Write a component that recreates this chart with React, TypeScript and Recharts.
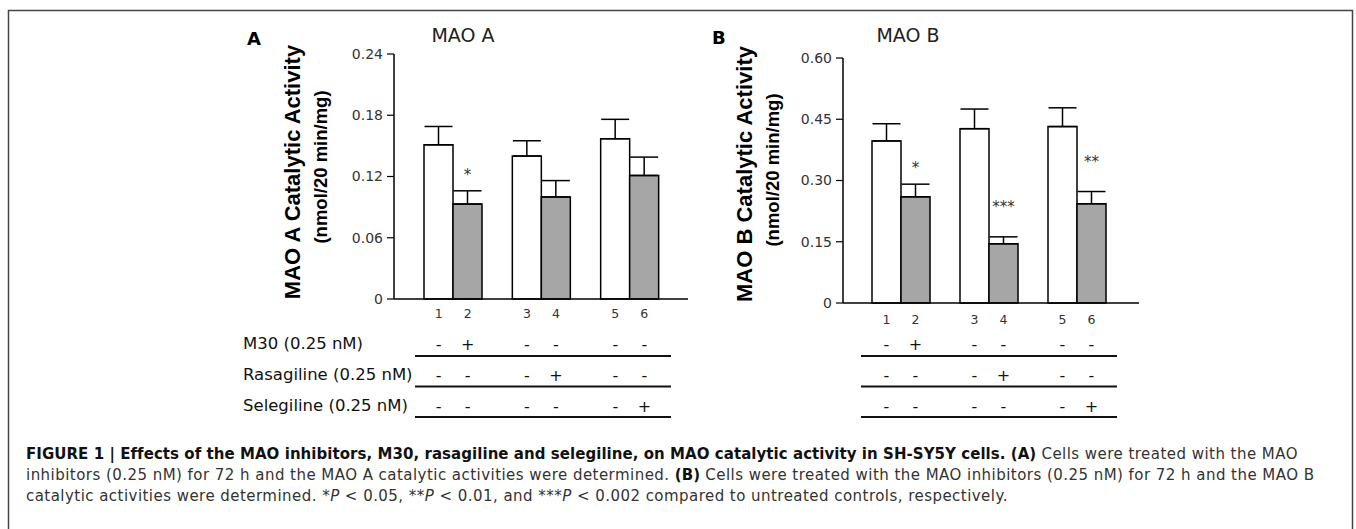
import React from "react"
import { BarChart, Bar, XAxis, YAxis, ErrorBar, LabelList } from "recharts"

// groups of two bars: untreated control + treated
const groups = ["1-2", "3-4", "5-6"]
const barIds = ["1", "2", "3", "4", "5", "6"]

const maoAControl = [0.151, 0.14, 0.157]
const maoAControlSem = [0.018, 0.015, 0.019]
const maoATreated = [0.093, 0.1, 0.121]
const maoATreatedSem = [0.013, 0.016, 0.018]
const maoASig = ["*", "", ""]

const maoBControl = [0.397, 0.427, 0.432]
const maoBControlSem = [0.042, 0.048, 0.046]
const maoBTreated = [0.26, 0.145, 0.243]
const maoBTreatedSem = [0.031, 0.017, 0.03]
const maoBSig = ["*", "***", "**"]

const maoATicks = [0, 0.06, 0.12, 0.18, 0.24]
const maoBTicks = [0, 0.15, 0.3, 0.45, 0.6]

const rowLabels = ["M30 (0.25 nM)", "Rasagiline (0.25 nM)", "Selegiline (0.25 nM)"]
const m30Signs = ["-", "+", "-", "-", "-", "-"]
const rasagilineSigns = ["-", "-", "-", "+", "-", "-"]
const selegilineSigns = ["-", "-", "-", "-", "-", "+"]
const treatmentRows = [m30Signs, rasagilineSigns, selegilineSigns]

const FONT = "'DejaVu Sans', sans-serif"
const ROW_Y = [344, 375, 406]
const LINE_Y = [356, 386.5, 417]

function buildData(control: number[], cSem: number[], treated: number[], tSem: number[], sig: string[]) {
  return groups.map((g, i) => ({
    group: g,
    control: control[i],
    controlErr: [0, cSem[i]],
    treated: treated[i],
    treatedErr: [0, tSem[i]],
    sig: sig[i],
  }))
}

const dataA = buildData(maoAControl, maoAControlSem, maoATreated, maoATreatedSem, maoASig)
const dataB = buildData(maoBControl, maoBControlSem, maoBTreated, maoBTreatedSem, maoBSig)

const fmt = (v: number) => (v === 0 ? "0" : v.toFixed(2))

function makeTick(numY: number) {
  return (props: any) => {
    const { x, index } = props
    const xs = [x - 14.5, x + 14.5]
    return (
      <g>
        {xs.map((bx, k) => {
          const j = index * 2 + k
          return (
            <g key={k}>
              <text x={bx} y={numY} textAnchor="middle" dominantBaseline="central" fontSize={12.5} fill="#333" fontFamily={FONT}>
                {barIds[j]}
              </text>
              {treatmentRows.map((row, r) => (
                <text key={r} x={bx} y={ROW_Y[r]} textAnchor="middle" dominantBaseline="central" fontSize={16} fill="#111" fontFamily={FONT}>
                  {row[j]}
                </text>
              ))}
            </g>
          )
        })}
      </g>
    )
  }
}

function makeSigLabel(data: any[]) {
  return (props: any) => {
    const { x, y, width, height, index, value } = props
    if (!value) return null
    const d = data[index]
    const errPx = (height * d.treatedErr[1]) / d.treated
    const lift = value.length > 1 ? 30 : 16
    return (
      <text x={x + width / 2} y={y - errPx - lift} textAnchor="middle" dominantBaseline="central" fontSize={15} fill="#333" fontFamily={FONT}>
        {value}
      </text>
    )
  }
}

function Panel(props: {
  data: any[]
  ticks: number[]
  left: number
  width: number
  top: number
  yAxisWidth: number
  xAxisHeight: number
  right: number
  padding: { left: number; right: number }
  numY: number
}) {
  const { data, ticks } = props
  return (
    <div style={{ position: "absolute", left: props.left, top: 0 }}>
      <BarChart
        width={props.width}
        height={440}
        data={data}
        margin={{ top: props.top, right: props.right, bottom: 0, left: 0 }}
        barGap={0}
        barSize={29}
      >
        <XAxis
          dataKey="group"
          height={props.xAxisHeight}
          padding={props.padding}
          axisLine={{ stroke: "#000", strokeWidth: 1.5 }}
          tickLine={false}
          tick={makeTick(props.numY)}
          interval={0}
        />
        <YAxis
          width={props.yAxisWidth}
          domain={[ticks[0], ticks[ticks.length - 1]]}
          ticks={ticks}
          tickFormatter={fmt}
          tickSize={7}
          tickMargin={4}
          axisLine={{ stroke: "#000", strokeWidth: 1.5 }}
          tickLine={{ stroke: "#000", strokeWidth: 1.2 }}
          tick={{ fontSize: 14, fill: "#333", fontFamily: FONT }}
        />
        <Bar dataKey="control" fill="#fff" stroke="#000" strokeWidth={1.5} isAnimationActive={false}>
          <ErrorBar dataKey="controlErr" width={14} stroke="#000" strokeWidth={1.5} direction="y" />
        </Bar>
        <Bar dataKey="treated" fill="#a6a6a6" stroke="#000" strokeWidth={1.5} isAnimationActive={false}>
          <ErrorBar dataKey="treatedErr" width={14} stroke="#000" strokeWidth={1.5} direction="y" />
          <LabelList dataKey="sig" content={makeSigLabel(data)} />
        </Bar>
      </BarChart>
    </div>
  )
}

const boldStyle = { color: "#111", letterSpacing: "0.05px" }

export default function App() {
  return (
    <div style={{ position: "absolute", left: 0, top: 0, width: 1356, height: 529, background: "#fff", overflow: "hidden" }}>
      <Panel
        data={dataA}
        ticks={maoATicks}
        left={230}
        width={470}
        top={54}
        right={12}
        yAxisWidth={164}
        xAxisHeight={141}
        padding={{ left: 15, right: 14 }}
        numY={313}
      />
      <Panel
        data={dataB}
        ticks={maoBTicks}
        left={700}
        width={450}
        top={58}
        right={11}
        yAxisWidth={143}
        xAxisHeight={137}
        padding={{ left: 14, right: 18 }}
        numY={319}
      />
      <svg width={1356} height={529} style={{ position: "absolute", left: 0, top: 0, pointerEvents: "none" }}>
        {/* frame */}
        <path d="M8.5 529 V10.5 H1352.5 V529" fill="none" stroke="#444" strokeWidth={1.5} />

        {/* panel letters and titles */}
        <text x={247} y={38} dominantBaseline="central" fontSize={18} fontWeight="bold" fontFamily={FONT} fill="#000">A</text>
        <text x={712} y={37} dominantBaseline="central" fontSize={18} fontWeight="bold" fontFamily={FONT} fill="#000">B</text>
        <text x={463} y={35} textAnchor="middle" dominantBaseline="central" fontSize={19} fontFamily={FONT} fill="#222">MAO A</text>
        <text x={908} y={35} textAnchor="middle" dominantBaseline="central" fontSize={19} fontFamily={FONT} fill="#222">MAO B</text>

        {/* y axis titles */}
        <g fontFamily="'Liberation Sans', Arial, sans-serif" fontWeight="bold" fill="#000" textAnchor="middle">
          <text transform="translate(292,172) rotate(-90)" dominantBaseline="central" fontSize={22}>MAO A Catalytic Activity</text>
          <text transform="translate(320,167) rotate(-90)" dominantBaseline="central" fontSize={18.5}>(nmol/20 min/mg)</text>
          <text transform="translate(744,174) rotate(-90)" dominantBaseline="central" fontSize={22}>MAO B Catalytic Activity</text>
          <text transform="translate(772,170) rotate(-90)" dominantBaseline="central" fontSize={18.5}>(nmol/20 min/mg)</text>
        </g>

        {/* treatment table */}
        {rowLabels.map((t, r) => (
          <text key={t} x={243} y={ROW_Y[r] - 1} dominantBaseline="central" fontSize={16.5} fontFamily={FONT} fill="#111">
            {t}
          </text>
        ))}
        {LINE_Y.map((y) => (
          <g key={y}>
            <line x1={415} x2={671} y1={y} y2={y} stroke="#111" strokeWidth={1.8} />
            <line x1={861} x2={1117} y1={y} y2={y} stroke="#111" strokeWidth={1.8} />
          </g>
        ))}
      </svg>
      <div
        style={{
          position: "absolute",
          left: 26,
          top: 444,
          fontFamily: FONT,
          fontSize: 15,
          letterSpacing: "0.46px",
          lineHeight: "21px",
          color: "#333",
          whiteSpace: "nowrap",
        }}
      >
        <div>
          <b style={boldStyle}>
            FIGURE 1 | Effects of the MAO inhibitors, M30, rasagiline and selegiline, on MAO catalytic activity in SH-SY5Y cells. (A)
          </b>{" "}
          Cells were treated with the MAO
        </div>
        <div>
          inhibitors (0.25 nM) for 72 h and the MAO A catalytic activities were determined. <b style={boldStyle}>(B)</b> Cells were
          treated with the MAO inhibitors (0.25 nM) for 72 h and the MAO B
        </div>
        <div>
          catalytic activities were determined. *<i>P</i> &lt; 0.05, **<i>P</i> &lt; 0.01, and ***<i>P</i> &lt; 0.002 compared to untreated
          controls, respectively.
        </div>
      </div>
    </div>
  )
}
